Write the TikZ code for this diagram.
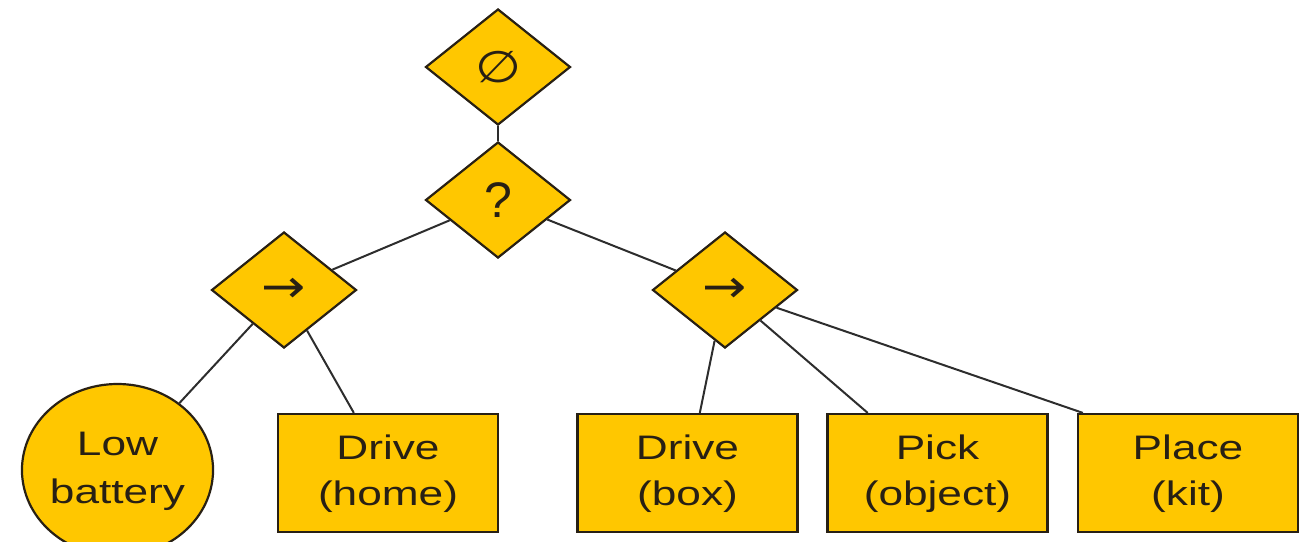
\documentclass[tikz,border=0pt]{standalone}
\usepackage{fontspec}
\setmainfont{Liberation Sans}
\newfontfamily\symfont{DejaVu Sans}
\usetikzlibrary{shapes.geometric}
\definecolor{btfill}{RGB}{255,199,0}
\definecolor{btline}{RGB}{40,32,20}
\definecolor{btedge}{RGB}{45,45,45}
% horizontally stretched label text
\newcommand{\widetext}[1]{\scalebox{1.3}[1]{\begin{tabular}{@{}c@{}}#1\end{tabular}}}
\tikzset{
  ctrl/.style={diamond, draw=btline, line width=2.2pt, fill=btfill, inner sep=0pt,
    minimum width=145pt, minimum height=116pt, text=btline},
  action/.style={rectangle, draw=btline, line width=2.2pt, fill=btfill, inner sep=0pt,
    minimum width=220pt, minimum height=118pt,
    font=\fontsize{34}{46}\selectfont, text=btline},
  cond/.style={ellipse, draw=btline, line width=2.2pt, fill=btfill, inner sep=0pt,
    minimum width=189pt, minimum height=172pt,
    font=\fontsize{34}{48}\selectfont, text=btline},
  link/.style={draw=btedge, line width=2pt}
}
\begin{document}
\begin{tikzpicture}[x=1pt,y=-1pt]
\useasboundingbox (0,0) rectangle (1304,541);
% control-flow nodes
\node[ctrl] (root) at (498,67) {\scalebox{1.2}[1]{\symfont\fontsize{44}{44}\selectfont ∅}};
\node[ctrl] (sel) at (498,200) {\raisebox{-2pt}{\fontsize{50}{50}\selectfont ?}};
\node[ctrl] (lseq) at (284,290) {\raisebox{-3pt}{\scalebox{1.15}[1]{\symfont\fontsize{46}{46}\selectfont →}}};
\node[ctrl] (rseq) at (725,290) {\raisebox{-3pt}{\scalebox{1.15}[1]{\symfont\fontsize{46}{46}\selectfont →}}};
% leaves
\node[cond] (low) at (117.5,470) {\raisebox{8pt}{\widetext{Low\\battery}}};
\node[action] (dhome) at (388,473) {\widetext{Drive\\(home)}};
\node[action] (dbox) at (687.5,473) {\widetext{Drive\\(box)}};
\node[action] (pick) at (937.5,473) {\widetext{Pick\\(object)}};
\node[action] (place) at (1188,473) {\widetext{Place\\(kit)}};
% connectors
\draw[link] (root) -- (sel);
\draw[link] (sel) -- (lseq);
\draw[link] (sel) -- (rseq);
\draw[link] (lseq) -- (low);
\draw[link] (lseq) -- (dhome);
\draw[link] (rseq) -- (dbox);
\draw[link] (rseq) -- (pick);
\draw[link] (rseq) -- ([xshift=6pt]place.north west);
\end{tikzpicture}
\end{document}
